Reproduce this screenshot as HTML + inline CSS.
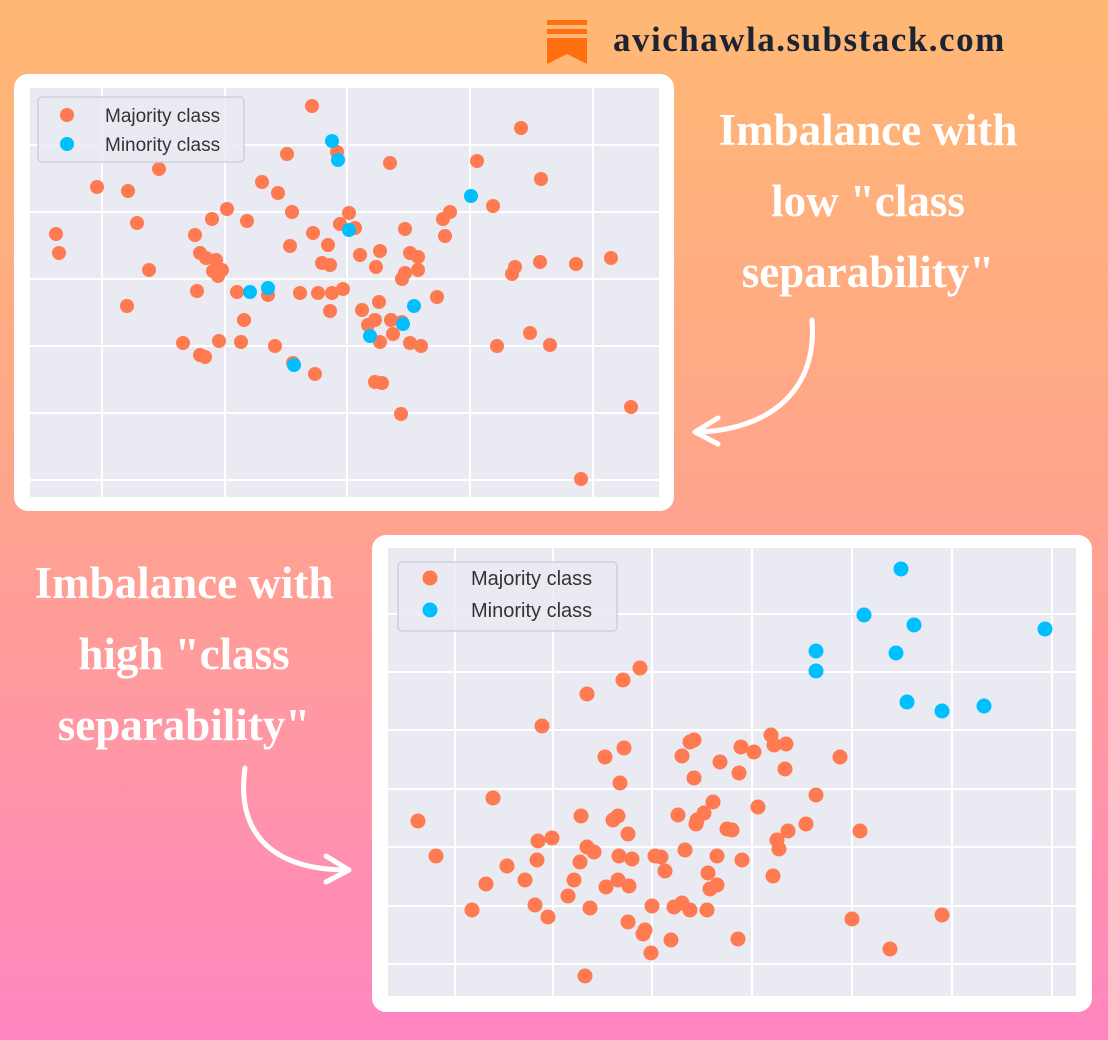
<!DOCTYPE html>
<html><head><meta charset="utf-8">
<style>
html,body{margin:0;padding:0;}
body{width:1108px;height:1040px;overflow:hidden;position:relative;background:linear-gradient(180deg,#ffb873 0%,#ffa58a 45%,#ff95a8 75%,#ff85c0 100%);font-family:"Liberation Sans",sans-serif;}
.card{position:absolute;background:#fff;border-radius:14px;}
.head{position:absolute;color:#fff;font-family:"Liberation Serif",serif;font-weight:bold;font-size:45px;text-align:center;line-height:71px;}
</style></head>
<body>
<div style="position:absolute;left:545px;top:18px;">
<svg width="44" height="48" viewBox="0 0 44 48" style="position:absolute;left:0;top:0">
<rect x="2" y="2" width="40" height="5" fill="#ff6f0f"/>
<rect x="2" y="11" width="40" height="5" fill="#ff6f0f"/>
<path d="M2 20 H42 V46 L22 36 L2 46 Z" fill="#ff6f0f"/>
</svg>
<div style="position:absolute;left:68px;top:2px;white-space:nowrap;font-family:'Liberation Serif',serif;font-weight:bold;font-size:35px;color:#1c2434;letter-spacing:1.5px;">avichawla.substack.com</div>
</div>

<div class="card" style="left:14px;top:74px;width:660px;height:437px;"></div>
<div class="card" style="left:372px;top:535px;width:720px;height:477px;"></div>

<svg id="svg" width="1108" height="1040" style="position:absolute;left:0;top:0"></svg>

<div class="head" style="left:660px;top:95px;width:416px;">Imbalance with<br>low "class<br>separability"</div>
<div class="head" style="left:0px;top:548px;width:368px;">Imbalance with<br>high "class<br>separability"</div>

<svg width="1108" height="1040" style="position:absolute;left:0;top:0;pointer-events:none">
<path d="M812 320 C818 390 770 430 697 432" fill="none" stroke="#fff" stroke-width="5" stroke-linecap="round"/>
<path d="M718 418 L695 432 L718 444" fill="none" stroke="#fff" stroke-width="5" stroke-linecap="round" stroke-linejoin="round"/>
<path d="M245 768 C235 840 280 870 348 870" fill="none" stroke="#fff" stroke-width="5" stroke-linecap="round"/>
<path d="M326 856 L349 870 L326 882" fill="none" stroke="#fff" stroke-width="5" stroke-linecap="round" stroke-linejoin="round"/>
</svg>

<script>
// Chart 1 data (low separability)
const c1MajX=[28.2,49.1,25.7,30.7,36.0,44.7,12.9,6.7,9.8,51.1,23.2,24.8,46.3,19.7,26.2,18.2,21.7,10.7,31.9,31.0,32.5,42.0,41.3,37.5,2.6,16.5,28.3,41.5,2.9,17.0,17.6,26.0,29.8,35.0,33.0,38.0,38.8,18.6,30.0,29.2,34.6,48.5,51.0,54.6,58.1,11.9,18.3,19.2,18.8,37.5,37.2,38.8,48.2,16.7,20.7,23.8,27.0,28.8,30.2,31.3,40.7,34.9,9.7,30.0,33.2,21.4,34.5,36.1,33.8,37.2,50.0,15.3,18.9,21.1,24.5,35.0,36.3,38.0,39.1,46.7,52.0,17.0,17.5,26.3,28.5,34.5,35.2,37.1,60.1,55.1];
const c1MajY=[39.1,36.9,34.3,34.5,33.4,33.6,32.8,31.0,30.6,31.8,31.5,30.4,29.1,28.8,28.5,27.8,27.6,27.4,28.4,27.3,26.9,28.5,27.8,26.8,26.3,26.2,26.4,26.1,24.4,24.4,23.9,25.1,25.2,24.6,24.2,24.4,24.0,23.7,23.2,23.4,23.0,23.0,23.5,23.3,23.9,22.7,22.6,22.7,22.1,22.4,21.8,22.7,22.3,20.6,20.5,20.2,20.4,20.4,20.4,20.8,20.0,19.5,19.1,18.6,18.7,17.7,17.7,17.7,17.2,17.5,16.4,15.4,15.6,15.5,15.1,15.5,16.3,15.4,15.1,15.1,15.2,14.2,14.0,13.4,12.3,11.5,11.4,8.3,9.0,1.8];
const c1MinX=[30.2,30.8,44.1,31.9,22.0,23.8,38.4,37.3,34.0,26.4];
const c1MinY=[35.6,33.7,30.1,26.7,20.5,20.9,19.1,17.3,16.1,13.2];
const c1TicksX=[7.2,19.5,31.7,44.0,56.3];
const c1TicksY=[35.2,28.5,21.8,15.1,8.4,1.7];
// Chart 2 data (high separability)
const c2MajX=[25.2,23.5,19.9,15.4,30.6,30.2,38.3,35.3,36.6,38.6,39.8,21.7,23.6,29.4,33.2,35.1,39.7,45.2,23.2,30.6,10.5,42.8,3.0,19.3,23.0,22.5,32.5,37.0,29.0,30.9,31.6,33.9,34.4,41.8,40.0,38.9,47.2,15.0,16.4,24.0,30.8,4.8,19.9,20.6,19.2,11.9,14.9,23.1,24.4,26.7,27.3,27.7,29.7,32.9,35.4,39.1,13.7,9.8,18.6,21.8,23.0,24.1,32.0,32.2,32.9,38.5,8.4,14.7,16.0,18.0,20.2,24.0,25.7,26.4,28.6,29.4,30.2,31.9,25.5,28.3,35.0,46.4,55.4,50.2,26.3,19.7];
const c2MajY=[32.8,31.6,30.2,27.0,25.6,25.4,26.1,24.9,24.4,25.1,25.2,23.9,24.8,24.0,23.4,22.3,22.7,23.9,21.3,21.8,19.8,20.1,17.5,18.0,18.0,17.6,19.4,18.9,18.1,17.6,18.3,16.7,16.6,17.2,16.5,15.6,16.5,15.5,15.8,16.2,17.2,14.0,14.9,14.4,13.4,13.0,13.6,14.0,13.7,14.0,13.9,12.5,14.6,14.0,13.6,14.7,11.6,11.2,11.6,10.9,11.6,11.0,12.3,10.7,11.1,12.0,8.6,9.1,7.9,10.0,8.8,7.4,6.6,9.0,8.9,9.3,8.6,8.6,6.2,5.6,5.7,7.7,8.1,4.7,4.3,2.0];
const c2MinX=[51.3,47.6,52.6,65.7,42.8,50.8,42.8,51.9,55.4,59.6];
const c2MinY=[42.7,38.1,37.1,36.7,34.5,34.3,32.5,29.4,28.5,29.0];
const c2TicksX=[6.7,16.5,26.4,36.4,46.4,56.4,66.4];
const c2TicksY=[38.2,32.4,26.6,20.7,14.9,9.0,3.2];
const legendLabels=["Majority class","Minority class"];

const NS="http://www.w3.org/2000/svg";
const svg=document.getElementById('svg');
function mk(tag,attrs,parent){const e=document.createElementNS(NS,tag);for(const k in attrs)e.setAttribute(k,attrs[k]);(parent||svg).appendChild(e);return e;}

function drawChart(cfg){
  const g=mk('g',{});
  
  
  const xS=v=>cfg.left+v/cfg.dx*cfg.w;
  const yS=v=>cfg.top+cfg.h-v/cfg.dy*cfg.h;
  const bg=mk('rect',{x:cfg.left,y:cfg.top,width:cfg.w,height:cfg.h,fill:'#eaeaf2'},g);
  
  
  cfg.tx.forEach(t=>{const l=mk('line',{x1:xS(t),x2:xS(t),y1:cfg.top,y2:cfg.top+cfg.h,stroke:'#fff','stroke-width':2},g);
    
    });
  cfg.ty.forEach(t=>{const l=mk('line',{x1:cfg.left,x2:cfg.left+cfg.w,y1:yS(t),y2:yS(t),stroke:'#fff','stroke-width':2},g);
    
    });
  cfg.majX.forEach((v,i)=>{const c=mk('circle',{cx:xS(v),cy:yS(cfg.majY[i]),r:cfg.r,fill:'#ff7a50'},g);
    
    });
  cfg.minX.forEach((v,i)=>{const c=mk('circle',{cx:xS(v),cy:yS(cfg.minY[i]),r:cfg.r,fill:'#00bfff'},g);
    
    });
  const L=cfg.leg;
  const lg=mk('g',{},g);
  
  
  mk('rect',{x:L.x,y:L.y,width:L.w,height:L.h,rx:4,fill:'#eaeaf2','fill-opacity':0.85,stroke:'#d0d0d8','stroke-width':1.5},lg);
  ['#ff7a50','#00bfff'].forEach((col,i)=>{
    const e=mk('g',{},lg);
    
    
    mk('circle',{cx:L.mx,cy:L.ey[i],r:cfg.r,fill:col},e);
    const t=mk('text',{x:L.tx,y:L.ey[i]+L.fs*0.36,'font-size':L.fs,fill:'#333','font-family':'Liberation Sans, sans-serif'},e);
    t.textContent=legendLabels[i];
  });
}
drawChart({name:'scatter-low-separability',left:30,top:88,w:629,h:409,dx:62.9,dy:40.9,r:7,
  majX:c1MajX,majY:c1MajY,minX:c1MinX,minY:c1MinY,tx:c1TicksX,ty:c1TicksY,
  leg:{x:38,y:97,w:206,h:65,mx:67,tx:105,ey:[115,144],fs:19}});
drawChart({name:'scatter-high-separability',left:388,top:548,w:688,h:448,dx:68.8,dy:44.8,r:7.5,
  majX:c2MajX,majY:c2MajY,minX:c2MinX,minY:c2MinY,tx:c2TicksX,ty:c2TicksY,
  leg:{x:398,y:562,w:219,h:69,mx:430,tx:471,ey:[578,610],fs:20}});
</script>
</body></html>
